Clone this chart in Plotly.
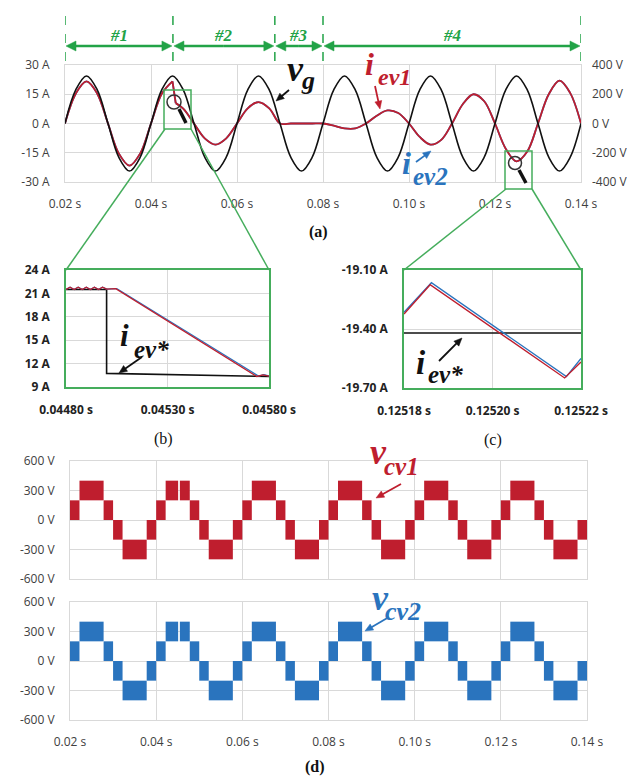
import math
import plotly.graph_objects as go

W, H = 635, 776

# ---------------- data: panel (a) ----------------
t_a = [0.0200, 0.0225, 0.0250, 0.0275, 0.0300, 0.0325, 0.0350, 0.0375,
       0.0400, 0.0425, 0.0450, 0.0475, 0.0500, 0.0525, 0.0550, 0.0575,
       0.0600, 0.0625, 0.0650, 0.0675, 0.0700, 0.0725, 0.0750, 0.0775,
       0.0800, 0.0825, 0.0850, 0.0875, 0.0900, 0.0925, 0.0950, 0.0975,
       0.1000, 0.1025, 0.1050, 0.1075, 0.1100, 0.1125, 0.1150, 0.1175,
       0.1200, 0.1225, 0.1250, 0.1275, 0.1300, 0.1325, 0.1350, 0.1375,
       0.1400]
v_g = [0, 230, 325, 230, 0, -230, -325, -230,
       0, 230, 325, 230, 0, -230, -325, -230,
       0, 230, 325, 230, 0, -230, -325, -230,
       0, 230, 325, 230, 0, -230, -325, -230,
       0, 230, 325, 230, 0, -230, -325, -230,
       0, 230, 325, 230, 0, -230, -325, -230,
       0]

# EV current, mode #1 (G2V, 21.6 A)
t_ev_m1 = [0.0200, 0.0225, 0.0250, 0.0275, 0.0300, 0.0325, 0.0350, 0.0375,
           0.0400, 0.0425, 0.0450]
i_ev_m1 = [0, 15.3, 21.6, 15.3, 0, -15.3, -21.6, -15.3, 0, 15.3, 21.6]
# step change of the reference
t_ev_step = [0.0450, 0.04575]
i_ev_step = [21.6, 10.45]
# modes #2, #3, #4
t_ev_m2 = [0.04575, 0.0475, 0.0500, 0.0525, 0.0550, 0.0575, 0.0600, 0.0625,
           0.0650, 0.0675, 0.0700, 0.0725, 0.0750, 0.0775, 0.0800, 0.0825,
           0.0850, 0.0875, 0.0900, 0.0925, 0.0950, 0.0975, 0.1000, 0.1025,
           0.1050, 0.1075, 0.1100, 0.1125, 0.1150, 0.1175, 0.1200, 0.1225,
           0.1250, 0.1275, 0.1300, 0.1325, 0.1350, 0.1375, 0.1400]
i_ev_m2 = [10.45, 7.6, 0, -7.6, -10.8, -7.6, 0, 7.8,
           11.0, 7.8, 0, 0, 0, 0, 0, -1.1,
           -2.5, -2.5, 0, 4.0, 6.7, 5.4, 0, -6.9,
           -10.8, -8.4, 0, 9.9, 15.0, 11.4, 0, -12.9,
           -19.4, -14.4, 0, 15.0, 22.0, 15.6, 0]

phase_bounds = [0.0200, 0.0451, 0.0688, 0.0800, 0.1400]
phase_labels = ["#1", "#2", "#3", "#4"]

a_xticks = [0.02, 0.04, 0.06, 0.08, 0.10, 0.12, 0.14]
a_xtext = ["0.02 s", "0.04 s", "0.06 s", "0.08 s", "0.10 s", "0.12 s", "0.14 s"]
a_yticks = [30, 15, 0, -15, -30]
a_ytext = ["30 A", "15 A", "0 A", "-15 A", "-30 A"]
a_y2ticks = [400, 200, 0, -200, -400]
a_y2text = ["400 V", "200 V", "0 V", "-200 V", "-400 V"]

# ---------------- data: panel (b) ----------------
t_b_ref = [0.04480, 0.04500, 0.04500, 0.04580]
i_b_ref = [21.5, 21.5, 10.75, 10.35]
t_b_ev1 = [0.04480, 0.04482, 0.04484, 0.04486, 0.04488, 0.04490, 0.04492,
           0.04494, 0.04496, 0.04498, 0.04500, 0.045045, 0.045740, 0.045770, 0.04580]
i_b_ev1 = [21.5, 21.8, 21.5, 21.8, 21.5, 21.8, 21.5,
           21.8, 21.5, 21.8, 21.55, 21.6, 10.35, 10.55, 10.40]
t_b_ev2 = [0.04480, 0.04482, 0.04484, 0.04486, 0.04488, 0.04490, 0.04492,
           0.04494, 0.04496, 0.04498, 0.04500, 0.045050, 0.045748, 0.045775, 0.04580]
i_b_ev2 = [21.5, 21.8, 21.5, 21.8, 21.5, 21.8, 21.5,
           21.8, 21.5, 21.8, 21.55, 21.62, 10.40, 10.58, 10.42]
b_xticks = [0.04480, 0.04530, 0.04580]
b_xtext = ["0.04480 s", "0.04530 s", "0.04580 s"]
b_yticks = [24, 21, 18, 15, 12, 9]
b_ytext = ["24 A", "21 A", "18 A", "15 A", "12 A", "9 A"]

# ---------------- data: panel (c) ----------------
t_c_ref = [0.12518, 0.12522]
i_c_ref = [-19.42, -19.42]
t_c_ev1 = [0.12518, 0.1251859, 0.1252163, 0.12522]
i_c_ev1 = [-19.324, -19.175, -19.649, -19.568]
t_c_ev2 = [0.12518, 0.1251862, 0.1252167, 0.12522]
i_c_ev2 = [-19.315, -19.165, -19.642, -19.550]
c_xticks = [0.12518, 0.12520, 0.12522]
c_xtext = ["0.12518 s", "0.12520 s", "0.12522 s"]
c_yticks = [-19.10, -19.40, -19.70]
c_ytext = ["-19.10 A", "-19.40 A", "-19.70 A"]

# ---------------- data: panel (d) ----------------
# converter voltage: PWM bands (start, end, lower level, upper level)
cv_start = [0.0200, 0.0222, 0.0278, 0.0300, 0.0322, 0.0378,
            0.0400, 0.0422, 0.0455, 0.0478, 0.0500, 0.0522, 0.0578,
            0.0600, 0.0622, 0.0678, 0.0700, 0.0722, 0.0778,
            0.0800, 0.0822, 0.0878, 0.0900, 0.0922, 0.0978,
            0.1000, 0.1022, 0.1078, 0.1100, 0.1122, 0.1178,
            0.1200, 0.1222, 0.1278, 0.1300, 0.1322, 0.1378]
cv_end = [0.0222, 0.0278, 0.0300, 0.0322, 0.0378, 0.0400,
          0.0422, 0.0451, 0.0478, 0.0500, 0.0522, 0.0578, 0.0600,
          0.0622, 0.0678, 0.0700, 0.0722, 0.0778, 0.0800,
          0.0822, 0.0878, 0.0900, 0.0922, 0.0978, 0.1000,
          0.1022, 0.1078, 0.1100, 0.1122, 0.1178, 0.1200,
          0.1222, 0.1278, 0.1300, 0.1322, 0.1378, 0.1400]
cv_low = [0, 200, 0, -200, -400, -200,
          0, 200, 200, 0, -200, -400, -200,
          0, 200, 0, -200, -400, -200,
          0, 200, 0, -200, -400, -200,
          0, 200, 0, -200, -400, -200,
          0, 200, 0, -200, -400, -200]
cv_high = [200, 400, 200, 0, -200, 0,
           200, 400, 400, 200, 0, -200, 0,
           200, 400, 200, 0, -200, 0,
           200, 400, 200, 0, -200, 0,
           200, 400, 200, 0, -200, 0,
           200, 400, 200, 0, -200, 0]
d_yticks = [600, 300, 0, -300, -600]
d_ytext = ["600 V", "300 V", "0 V", "-300 V", "-600 V"]

# ---------------- styles ----------------
RED = "#bf1e2e"
BLUE = "#2a74be"
BLACK = "#111111"
GRID = "#d9d9d9"
GREEN = "#45ad5c"
GREEN2 = "#22a347"
TICKF = dict(family="Open Sans", size=12, color="#404040")
TICKB = dict(family="Open Sans", size=12, color="#222222", weight="bold")
SERIF = "Liberation Serif, Times New Roman, serif"

A_LEFT, A_RIGHT = 57, 573   # pixel extent of panel (a) plot area


def X(px):
    return px / W


def Y(py):
    return 1 - py / H


def t2px(t):
    return A_LEFT + (t - 0.02) / 0.12 * (A_RIGHT - A_LEFT)


fig = go.Figure()

# (a)
fig.add_trace(go.Scatter(x=t_a, y=v_g, yaxis="y2", xaxis="x", mode="lines",
                         line=dict(color=BLACK, width=1.6, shape="spline")))
for tt, ii, shp in [(t_ev_m1, i_ev_m1, "spline"), (t_ev_step, i_ev_step, "linear"),
                    (t_ev_m2, i_ev_m2, "spline")]:
    fig.add_trace(go.Scatter(x=tt, y=ii, xaxis="x", yaxis="y", mode="lines",
                             line=dict(color=BLUE, width=1.8, shape=shp)))
for tt, ii, shp in [(t_ev_m1, i_ev_m1, "spline"), (t_ev_step, i_ev_step, "linear"),
                    (t_ev_m2, i_ev_m2, "spline")]:
    fig.add_trace(go.Scatter(x=tt, y=ii, xaxis="x", yaxis="y", mode="lines",
                             line=dict(color=RED, width=1.8, shape=shp)))

# (b)
fig.add_trace(go.Scatter(x=t_b_ref, y=i_b_ref, xaxis="x2", yaxis="y3", mode="lines",
                         line=dict(color=BLACK, width=1.6)))
fig.add_trace(go.Scatter(x=t_b_ev2, y=i_b_ev2, xaxis="x2", yaxis="y3", mode="lines",
                         line=dict(color=BLUE, width=1.3)))
fig.add_trace(go.Scatter(x=t_b_ev1, y=i_b_ev1, xaxis="x2", yaxis="y3", mode="lines",
                         line=dict(color=RED, width=1.3)))

# (c)
fig.add_trace(go.Scatter(x=t_c_ref, y=i_c_ref, xaxis="x3", yaxis="y4", mode="lines",
                         line=dict(color=BLACK, width=1.6)))
fig.add_trace(go.Scatter(x=t_c_ev2, y=i_c_ev2, xaxis="x3", yaxis="y4", mode="lines",
                         line=dict(color=BLUE, width=1.4)))
fig.add_trace(go.Scatter(x=t_c_ev1, y=i_c_ev1, xaxis="x3", yaxis="y4", mode="lines",
                         line=dict(color=RED, width=1.4)))

# (d)
cv_mid = [(s + e) / 2 for s, e in zip(cv_start, cv_end)]
cv_w = [e - s for s, e in zip(cv_start, cv_end)]
cv_h = [h - l for l, h in zip(cv_low, cv_high)]
fig.add_trace(go.Bar(x=cv_mid, y=cv_h, base=cv_low, width=cv_w, xaxis="x4", yaxis="y5",
                     marker=dict(color=RED, line=dict(width=0))))
fig.add_trace(go.Bar(x=cv_mid, y=cv_h, base=cv_low, width=cv_w, xaxis="x5", yaxis="y6",
                     marker=dict(color=BLUE, line=dict(width=0))))


def xax(dom, rng, tv, tt, font, anchor, show=True, line=GRID, lw=1):
    return dict(domain=dom, range=rng, tickvals=tv, ticktext=tt, tickfont=font,
                showgrid=True, gridcolor=GRID, gridwidth=1, zeroline=False,
                showline=True, linecolor=line, linewidth=lw, mirror=True,
                ticks="", anchor=anchor, showticklabels=show, ticklabelstandoff=11,
                automargin=False, fixedrange=True)


def yax(dom, rng, tv, tt, font, anchor, line=GRID, lw=1):
    return dict(domain=dom, range=rng, tickvals=tv, ticktext=tt, tickfont=font,
                showgrid=True, gridcolor=GRID, gridwidth=1, zeroline=False,
                showline=True, linecolor=line, linewidth=lw, mirror=True,
                ticks="", anchor=anchor, ticklabelstandoff=12, automargin=False,
                fixedrange=True)


fig.update_layout(
    template="none",
    width=W, height=H, autosize=False, showlegend=False,
    margin=dict(l=0, r=0, t=0, b=0, pad=0), paper_bgcolor="white", plot_bgcolor="white",
    barmode="overlay",
    xaxis=xax([X(57), X(573)], [0.02, 0.14], a_xticks, a_xtext, TICKF, "y"),
    yaxis=yax([Y(174), Y(57)], [-30, 30], a_yticks, a_ytext, TICKF, "x"),
    yaxis2=dict(overlaying="y", side="right", anchor="x", range=[-400, 400],
                tickvals=a_y2ticks, ticktext=a_y2text, tickfont=TICKF,
                showgrid=False, zeroline=False, showline=False, ticks="",
                ticklabelstandoff=10, automargin=False, fixedrange=True),
    xaxis2=xax([X(58), X(261)], [0.0448, 0.0458], b_xticks, b_xtext, TICKB, "y3",
               line=GREEN, lw=1.5),
    yaxis3=yax([Y(379), Y(262)], [9, 24], b_yticks, b_ytext, TICKB, "x2",
               line=GREEN, lw=1.5),
    xaxis3=xax([X(396), X(573)], [0.12518, 0.12522], c_xticks, c_xtext, TICKB, "y4",
               line=GREEN, lw=1.5),
    yaxis4=yax([Y(380), Y(262)], [-19.7, -19.1], c_yticks, c_ytext, TICKB, "x3",
               line=GREEN, lw=1.5),
    xaxis4=xax([X(62), X(579)], [0.02, 0.14], a_xticks, a_xtext, TICKF, "y5", show=False),
    yaxis5=yax([Y(571), Y(453)], [-600, 600], d_yticks, d_ytext, TICKF, "x4"),
    xaxis5=xax([X(62), X(579)], [0.02, 0.14], a_xticks, a_xtext, TICKF, "y6"),
    yaxis6=yax([Y(712), Y(594)], [-600, 600], d_yticks, d_ytext, TICKF, "x5"),
)

shapes = []


def arrow_shapes(x0, y0, x1, y1, color, width, hl, hw):
    """Arrow drawn from (x0,y0) to head at (x1,y1), pixel coords."""
    dx, dy = x1 - x0, y1 - y0
    L = math.hypot(dx, dy)
    ux, uy = dx / L, dy / L
    bx, by = x1 - ux * hl, y1 - uy * hl
    px, py = -uy, ux
    out = [dict(type="line", xref="paper", yref="paper", x0=X(x0), y0=Y(y0),
                x1=X(bx + ux * 1.0), y1=Y(by + uy * 1.0),
                line=dict(color=color, width=width))]
    path = "M %.5f,%.5f L %.5f,%.5f L %.5f,%.5f Z" % (
        X(x1), Y(y1), X(bx + px * hw), Y(by + py * hw), X(bx - px * hw), Y(by - py * hw))
    out.append(dict(type="path", xref="paper", yref="paper", path=path,
                    fillcolor=color, line=dict(color=color, width=0.5)))
    return out


# phase boundaries and double arrows
for tb in phase_bounds:
    shapes.append(dict(type="line", xref="x", yref="paper", x0=tb, x1=tb,
                       y0=Y(8), y1=Y(56), line=dict(color=GREEN2, width=1.5, dash="dash")))
for a, b in zip(phase_bounds[:-1], phase_bounds[1:]):
    pa, pb = t2px(a) + 1, t2px(b) - 1
    pm = (pa + pb) / 2
    shapes += arrow_shapes(pm, 38, pb, 38, GREEN2, 2.5, 10, 5)
    shapes += arrow_shapes(pm, 38, pa, 38, GREEN2, 2.5, 10, 5)

# zoom boxes and connectors
shapes.append(dict(type="rect", xref="paper", yref="paper", x0=X(156), x1=X(183),
                   y0=Y(121), y1=Y(82), line=dict(color=GREEN, width=1.5)))
shapes.append(dict(type="rect", xref="paper", yref="paper", x0=X(497), x1=X(524),
                   y0=Y(181), y1=Y(143), line=dict(color=GREEN, width=1.5)))
for (x0, y0, x1, y1) in [(157, 121, 58, 262), (183, 121, 261, 262),
                         (498, 181, 396, 262), (524, 181, 573, 262)]:
    shapes.append(dict(type="line", xref="paper", yref="paper", x0=X(x0), y0=Y(y0),
                       x1=X(x1), y1=Y(y1), line=dict(color=GREEN, width=1.5)))
# magnifier glyphs
for (cx, cy, r, hx0, hy0, hx1, hy1) in [(166, 94, 7, 171, 101, 178, 115),
                                        (507, 155, 6.5, 511, 162, 518, 175)]:
    shapes.append(dict(type="circle", xref="paper", yref="paper", x0=X(cx - r), x1=X(cx + r),
                       y0=Y(cy + r), y1=Y(cy - r), line=dict(color="#333333", width=1.5)))
    shapes.append(dict(type="line", xref="paper", yref="paper", x0=X(hx0), y0=Y(hy0),
                       x1=X(hx1), y1=Y(hy1), line=dict(color="#111111", width=3.5)))

# pointer arrows (tail -> head)
for (hx, hy, tx, ty, col) in [(268, 93, 281, 82, BLACK), (372, 101, 367, 78, RED),
                              (423, 143, 408, 154, BLUE), (111, 365, 134, 349, BLACK),
                              (454, 330, 431, 353, BLACK), (368, 490, 393, 476, RED),
                              (357, 623, 381, 609, BLUE)]:
    shapes += arrow_shapes(tx, ty, hx, hy, col, 1.8, 8, 3.5)
fig.update_layout(shapes=shapes)

ann = []
for a, b, lab in zip(phase_bounds[:-1], phase_bounds[1:], phase_labels):
    ann.append(dict(xref="x", yref="paper", x=(a + b) / 2, y=Y(28), text="<b><i>%s</i></b>" % lab,
                    showarrow=False, font=dict(family=SERIF, size=17, color=GREEN2),
                    xanchor="center", yanchor="middle"))


def glyph(txt, left, baseline, color, size):
    # centre of the text box sits ~0.34 em above the baseline for this serif face
    return dict(xref="paper", yref="paper", x=X(left), y=Y(baseline - 0.3375 * size),
                text="<b><i>%s</i></b>" % txt, showarrow=False,
                font=dict(family=SERIF, size=size, color=color),
                xanchor="left", yanchor="middle", borderpad=0)


# math labels: (main, subscript, main-left, main-baseline, sub-left, sub-baseline,
#               colour, main size, sub size)
math_labels = [
    ("v", "g", 278, 73, 292, 81, BLACK, 36, 26),
    ("i", "ev1", 356, 67, 369, 77, RED, 32, 24),
    ("i", "ev2", 393, 166, 404, 177, BLUE, 32, 25),
    ("i", "ev*", 111, 338, 125, 350, BLACK, 31, 25),
    ("i", "ev*", 407, 366, 419, 375, BLACK, 33, 25),
    ("v", "cv1", 361, 456, 375, 467, RED, 36, 25),
    ("v", "cv2", 363, 602, 376, 612, BLUE, 36, 26),
]
for (m, s, ml, mb, sl, sb, col, ms, ss) in math_labels:
    ann.append(glyph(m, ml, mb, col, ms))
    ann.append(glyph(s, sl, sb, col, ss))

for (txt, cx, cy, bold) in [("(a)", 310, 224, True), ("(b)", 155, 431, False),
                            ("(c)", 485, 432, False), ("(d)", 307, 759, True)]:
    ann.append(dict(xref="paper", yref="paper", x=X(cx), y=Y(cy),
                    text=("<b>%s</b>" % txt) if bold else txt, showarrow=False,
                    font=dict(family=SERIF, size=16, color="#111111"),
                    xanchor="center", yanchor="middle"))
fig.update_layout(annotations=ann)

fig.write_html("out.html")
